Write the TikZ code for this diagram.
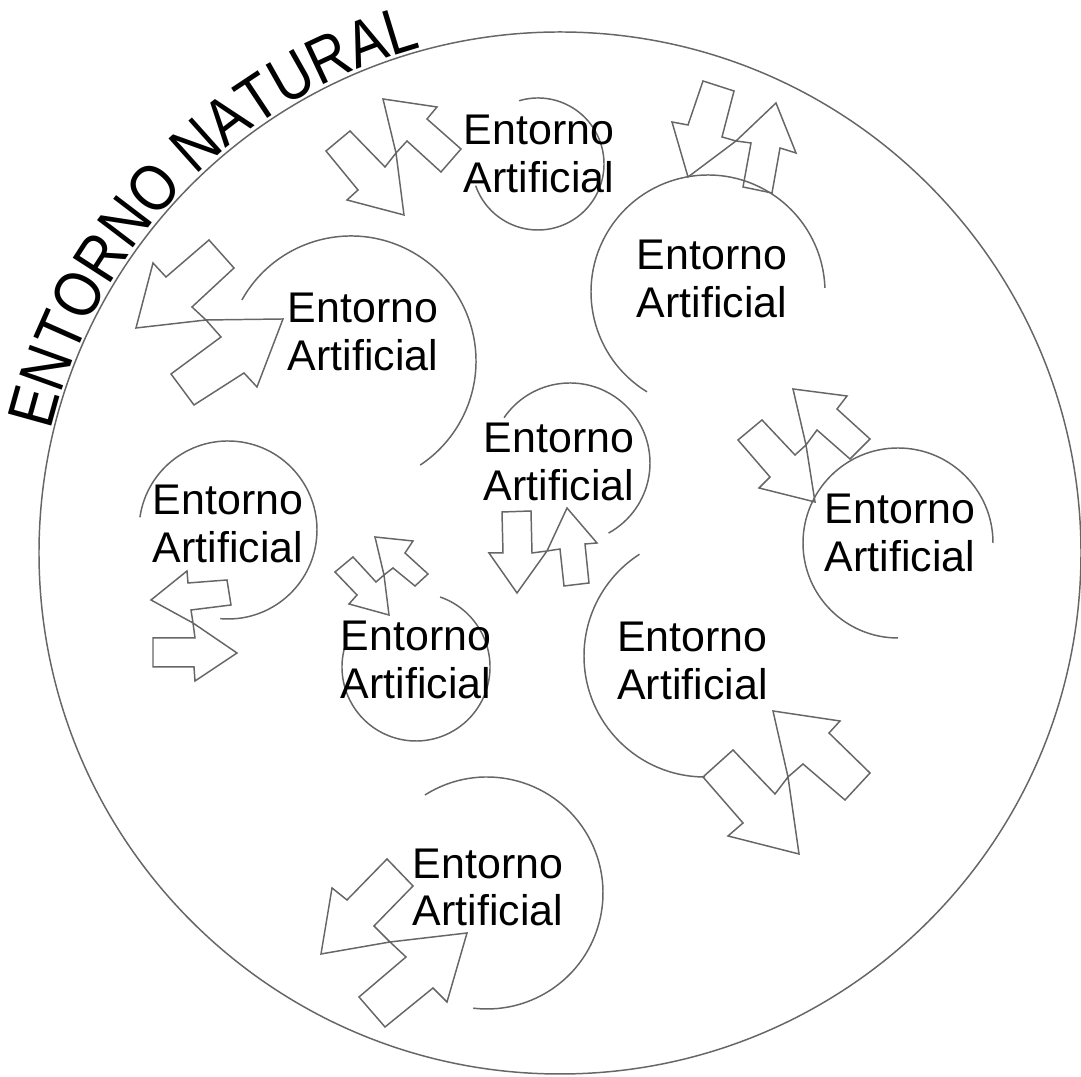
\documentclass[tikz,border=0pt]{standalone}
\usepackage{fontspec}
\setmainfont{Liberation Sans}
\newfontfamily\estrecha[FakeStretch=0.86]{Liberation Sans}
\usepackage{tikz}
\usetikzlibrary{decorations.text}

\begin{document}
\begin{tikzpicture}[x=0.01cm,y=-0.01cm,
  contorno/.style={draw=black!60,line width=0.42pt},
  flecha/.style={draw=black!60,line width=0.42pt,line join=miter},
  rotulo/.style={inner sep=0pt,align=left,font=\fontsize{12.2pt}{13.4pt}\selectfont}]
\useasboundingbox (0,0) rectangle (1081,1077);
% entorno natural
\draw[contorno] (560,553) circle[radius=521];
\path[decorate,decoration={text along path,text align=left,
  text={|\estrecha\fontsize{18.6pt}{18.6pt}\selectfont|ENTORNO NATURAL}}]
  (560,553) ++(193.5:524) arc[start angle=193.5,end angle=275,radius=524];
% entornos artificiales
\foreach \i/\cx/\cy/\r/\a/\b/\tx/\ty in {1/538/164/66/-106.6/160.8/539/154,
  2/708/292/117/121.4/358/712/279, 3/351/361/125/-150.8/56.4/363/332,
  4/898/543/95/90/360/900/533, 5/228/530/89/-171.8/95/228/524,
  6/570/463/80/-145.5/61.2/559/462, 7/416/667/74/-71/195/416/660,
  8/705/656/121/90/237.2/692.5/661, 9/487/893/116/-122.3/96.8/488/887.5}{
  \draw[contorno] (\cx,\cy) ++(\a:\r) arc[start angle=\a,end angle=\b,radius=\r];
  \node[rotulo] (art\i) at (\tx,\ty) {Entorno\\Artificial};
}
% flechas de intercambio
\draw[flecha] (383,99) -- (437,107) -- (427,119) -- (461,149) -- (441,172) -- (407,141) -- (396,153)
  -- (385,167) -- (350,131) -- (326,151) -- (358,190) -- (347,200) -- (404,215) -- (396,153) -- cycle;
\draw[flecha] (703,81) -- (734,91) -- (722,137) -- (736,141) -- (751,143) -- (743,187) -- (772,193)
  -- (780,148) -- (796,153) -- (776,103) -- (736,141) -- (688,177) -- (672,122) -- (688,125) -- cycle;
\draw[flecha] (136,328) -- (153,263) -- (166,277) -- (209,240) -- (234,268) -- (192,307) -- (206,320)
  -- (221,337) -- (171,374) -- (194,405) -- (244,373) -- (257,387) -- (283,319) -- (206,320) -- cycle;
\draw[flecha] (793,389) -- (847,396) -- (837,409) -- (870,439) -- (850,459) -- (817,430) -- (806,445)
  -- (795,455) -- (762,420) -- (738,440) -- (770,477) -- (759,488) -- (815,502) -- (806,445) -- cycle;
\draw[flecha] (151,600) -- (187,571) -- (188,583) -- (227,580) -- (231,605) -- (191,610) -- (193,623)
  -- (195,638) -- (153,638) -- (153,667) -- (194,667) -- (195,681) -- (237,653) -- (193,623) -- cycle;
\draw[flecha] (502,512) -- (531,511) -- (532,553) -- (547,551) -- (560,549) -- (564,586) -- (589,583)
  -- (585,544) -- (597,543) -- (567,508) -- (547,551) -- (517,593) -- (489,553) -- (503,553) -- cycle;
\draw[flecha] (375,537) -- (413,541) -- (405,553) -- (428,574) -- (415,586) -- (393,568) -- (384,575)
  -- (376,582) -- (353,557) -- (335,572) -- (357,595) -- (349,604) -- (389,615) -- (384,575) -- cycle;
\draw[flecha] (773,711) -- (840,721) -- (829,733) -- (870,773) -- (845,800) -- (803,764) -- (788,777)
  -- (775,794) -- (733,750) -- (703,777) -- (743,823) -- (728,836) -- (799,854) -- (788,777) -- cycle;
\draw[flecha] (321,954) -- (332,888) -- (347,900) -- (387,859) -- (413,886) -- (374,926) -- (390,942)
  -- (406,957) -- (359,997) -- (385,1027) -- (433,988) -- (447,1002) -- (467,933) -- (390,942) -- cycle;
\end{tikzpicture}
\end{document}
